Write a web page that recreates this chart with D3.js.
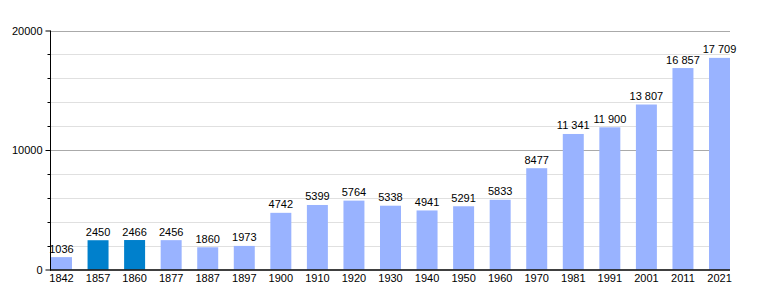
<!DOCTYPE html>
<html>
<head>
<meta charset="utf-8">
<script src="https://cdn.jsdelivr.net/npm/d3@7"></script>
<style>
  body { margin: 0; background: #fff; }
  text { font-family: "Liberation Sans", Arial, Helvetica, sans-serif; }
</style>
</head>
<body>
<div id="chart"></div>
<script>
// Census years and population
const years = ['1842', '1857', '1860', '1877', '1887', '1897', '1900', '1910', '1920', '1930',
  '1940', '1950', '1960', '1970', '1981', '1991', '2001', '2011', '2021'];
const population = [1036, 2450, 2466, 2456, 1860, 1973, 4742, 5399, 5764, 5338,
  4941, 5291, 5833, 8477, 11341, 11900, 13807, 16857, 17709];
// years drawn in the darker colour
const highlighted = ['1857', '1860'];
const majorTicks = [0, 10000, 20000];
const minorTicks = [2000, 4000, 6000, 8000, 12000, 14000, 16000, 18000];

const width = 760, height = 300;
const plotLeft = 50, plotRight = 730, plotTop = 30.5, plotBottom = 269.5;

const svg = d3.select('#chart').append('svg')
  .attr('width', width)
  .attr('height', height);

const x = d3.scaleBand()
  .domain(years)
  .range([plotLeft + 1, plotRight])
  .paddingInner(0.426)
  .paddingOuter(0);

const y = d3.scaleLinear()
  .domain([0, 20000])
  .range([plotBottom, plotTop]);

// minor grid lines
svg.append('g')
  .selectAll('line')
  .data(minorTicks)
  .join('line')
  .attr('x1', plotLeft).attr('x2', plotRight)
  .attr('y1', d => Math.round(y(d)) + 0.5)
  .attr('y2', d => Math.round(y(d)) + 0.5)
  .attr('stroke', '#e0e0e0');

// major grid lines
svg.append('g')
  .selectAll('line')
  .data(majorTicks.filter(d => d > 0))
  .join('line')
  .attr('x1', plotLeft).attr('x2', plotRight)
  .attr('y1', d => Math.round(y(d)) + 0.5)
  .attr('y2', d => Math.round(y(d)) + 0.5)
  .attr('stroke', '#aaaaaa');

// bars
svg.append('g')
  .selectAll('rect')
  .data(years)
  .join('rect')
  .attr('x', d => x(d))
  .attr('width', x.bandwidth())
  .attr('y', (d, i) => y(population[i]))
  .attr('height', (d, i) => plotBottom - y(population[i]))
  .attr('fill', d => highlighted.includes(d) ? '#0080cc' : '#99b3ff');

// value labels: thousands separated by a space from 10000 up
const fmt = v => v >= 10000 ? d3.format(',')(v).replace(/,/g, ' ') : String(v);
svg.append('g')
  .selectAll('text')
  .data(years)
  .join('text')
  .attr('x', d => x(d) + x.bandwidth() / 2)
  .attr('y', (d, i) => y(population[i]) - 4.5)
  .attr('text-anchor', 'middle')
  .attr('font-size', '11px')
  .attr('fill', '#000')
  .text((d, i) => fmt(population[i]));

// y axis
const yAxis = svg.append('g')
  .attr('transform', `translate(${plotLeft + 0.5},0)`)
  .call(d3.axisLeft(y).tickValues(majorTicks).tickSize(5).tickFormat(d3.format('d')));
yAxis.select('.domain').attr('stroke', '#000').attr('d', `M0,${plotTop}V${plotBottom + 1}`);
yAxis.selectAll('.tick line').attr('stroke', '#000');
yAxis.selectAll('.tick text')
  .attr('font-size', '11px')
  .attr('font-family', '"Liberation Sans", Arial, sans-serif')
  .attr('fill', '#000')
  .attr('x', -8);

svg.append('g')
  .attr('transform', `translate(${plotLeft + 0.5},0)`)
  .selectAll('line')
  .data(minorTicks)
  .join('line')
  .attr('x1', -3).attr('x2', 0)
  .attr('y1', d => Math.round(y(d)) + 0.5)
  .attr('y2', d => Math.round(y(d)) + 0.5)
  .attr('stroke', '#000');

// x axis
const xAxis = svg.append('g')
  .attr('transform', `translate(0,${plotBottom + 0.5})`)
  .call(d3.axisBottom(x).tickSize(0).tickPadding(4));
xAxis.select('.domain').attr('stroke', '#000').attr('d', `M${plotLeft},0H${plotRight}`).attr('stroke-width', 1.5);
xAxis.selectAll('.tick text')
  .attr('font-size', '11px')
  .attr('font-family', '"Liberation Sans", Arial, sans-serif')
  .attr('fill', '#000');
</script>
</body>
</html>
